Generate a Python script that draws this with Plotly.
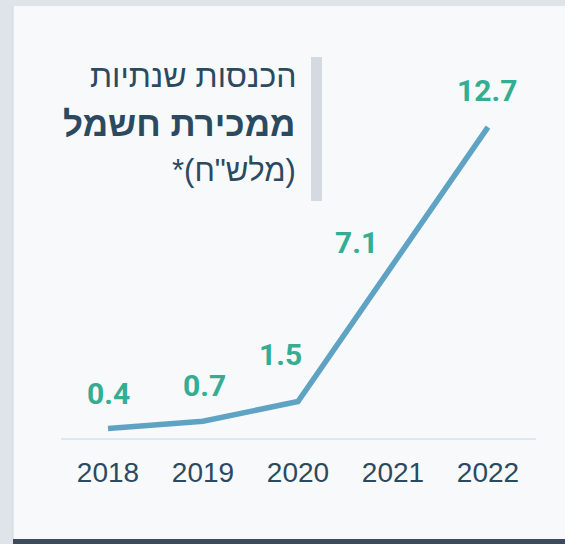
import plotly.graph_objects as go

# ---- data ----
years = ["2018", "2019", "2020", "2021", "2022"]
revenue = [0.4, 0.7, 1.5, 7.1, 12.7]
value_labels = ["0.4", "0.7", "1.5", "7.1", "12.7"]
title_line1 = "הכנסות שנתיות"
title_line2 = "ממכירת חשמל"
title_line3 = "*(מלש\"ח)"

# ---- layout helpers (pixel -> paper) ----
W, H = 565, 544
def fx(p):
    return p / W
def fy(p):
    return 1 - p / H

# label offsets in px (xshift, yshift)
label_offsets = [(0, 35), (1, 36), (-18, 47), (-37, 22), (-1, 37)]

TEXT = "#2b4a5f"
GREEN = "#34ad92"
LINE = "#5fa3c4"

fig = go.Figure()
fig.add_trace(go.Scatter(
    x=years, y=revenue, mode="lines",
    line=dict(color=LINE, width=5.5),
    cliponaxis=False, hoverinfo="skip", showlegend=False,
))

annotations = []
for i, (v, lab, (dx, dy)) in enumerate(zip(revenue, value_labels, label_offsets)):
    annotations.append(dict(
        x=i, y=v, xref="x", yref="y", text=lab, showarrow=False,
        xshift=dx, yshift=dy, xanchor="center", yanchor="middle",
        font=dict(family="Roboto", size=30, color=GREEN, weight="bold"),
    ))

annotations += [
    dict(x=fx(297), y=fy(76), xref="paper", yref="paper", text=title_line1,
         showarrow=False, xanchor="right", yanchor="middle", align="right", borderpad=0,
         font=dict(family="Liberation Sans", size=32, color=TEXT)),
    dict(x=fx(297), y=fy(124), xref="paper", yref="paper", text=title_line2,
         showarrow=False, xanchor="right", yanchor="middle", align="right", borderpad=0,
         font=dict(family="Liberation Sans", size=35, color=TEXT, weight="bold")),
    dict(x=fx(297), y=fy(170), xref="paper", yref="paper", text=title_line3,
         showarrow=False, xanchor="right", yanchor="middle", align="right", borderpad=0,
         font=dict(family="Liberation Sans", size=31, color=TEXT)),
]

shapes = [
    # card
    dict(type="rect", xref="paper", yref="paper", x0=fx(13), x1=1, y0=fy(539), y1=fy(6),
         fillcolor="#f8f9fa", line=dict(width=0), layer="below"),
    # card edge
    dict(type="line", xref="paper", yref="paper", x0=fx(13), x1=fx(13), y0=fy(539), y1=fy(6),
         line=dict(color="#cfd6de", width=1), layer="below"),
    # bottom dark bar
    dict(type="rect", xref="paper", yref="paper", x0=fx(13), x1=1, y0=0, y1=fy(539),
         fillcolor="#3d4a5e", line=dict(width=0), layer="below"),
    # grey title bar
    dict(type="rect", xref="paper", yref="paper", x0=fx(311), x1=fx(322), y0=fy(201), y1=fy(57),
         fillcolor="#d5dae1", line=dict(width=0), layer="below"),
]

y_bottom_px = 438.3
y_top_px = 50
px_per_unit = 24.5

fig.update_layout(
    width=W, height=H,
    margin=dict(l=0, r=0, t=0, b=0, pad=0),
    paper_bgcolor="#dfe4ea",
    plot_bgcolor="rgba(0,0,0,0)",
    shapes=shapes,
    annotations=annotations,
    xaxis=dict(
        type="category", range=[-0.5, 4.5], domain=[fx(60.5), fx(535.5)],
        showgrid=False, zeroline=False, showline=True, linecolor="#dbe8f0", linewidth=2,
        ticks="outside", ticklen=8, tickcolor="rgba(0,0,0,0)",
        tickfont=dict(family="Liberation Sans", size=28, color=TEXT),
        fixedrange=True,
    ),
    yaxis=dict(
        range=[0, (y_bottom_px - y_top_px) / px_per_unit],
        domain=[fy(y_bottom_px), fy(y_top_px)],
        visible=False, showgrid=False, zeroline=False, fixedrange=True,
    ),
    showlegend=False,
)

fig.write_html("out.html", config={"displayModeBar": False},
               post_script="document.body.style.margin='0';document.body.style.overflow='hidden';")
